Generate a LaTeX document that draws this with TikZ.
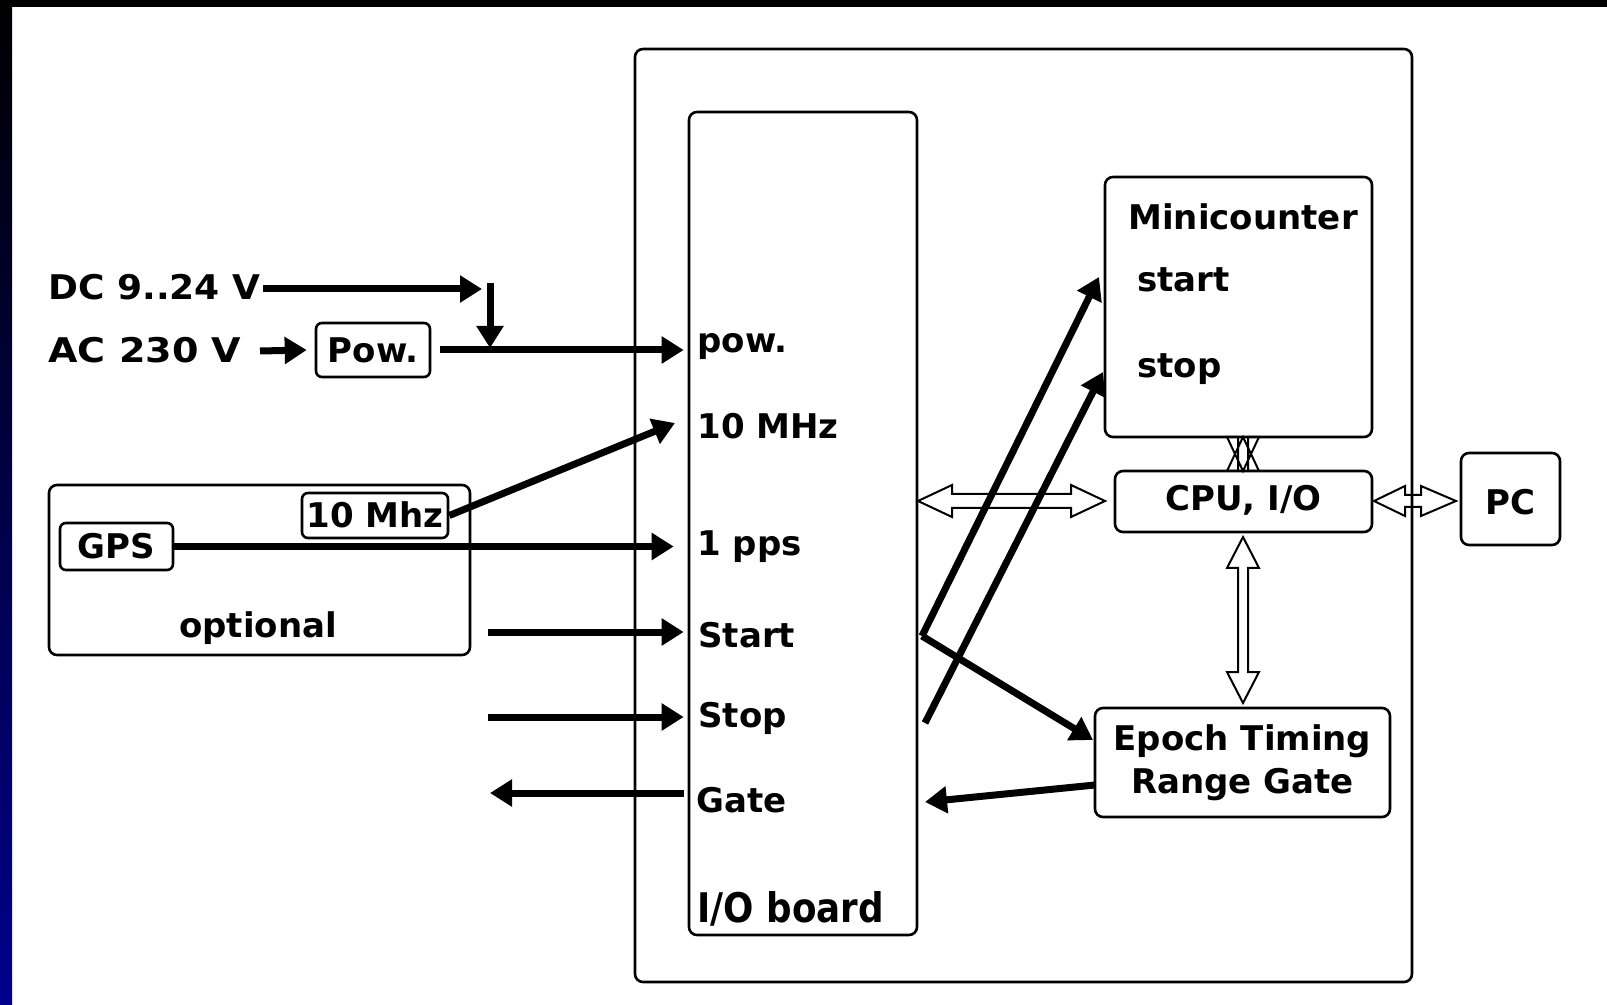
\documentclass[tikz,border=0pt]{standalone}
\usepackage{fontspec}
\setmainfont{DejaVu Sans}
\usetikzlibrary{arrows.meta}
\definecolor{navyb}{RGB}{0,0,140}
\begin{document}
\begin{tikzpicture}[x=0.5pt,y=-0.5pt,
  box/.style={draw,line width=1.3pt,rounded corners=4pt,inner sep=0pt},
  sbox/.style={box,rounded corners=3pt},
  lblfont/.style={font=\bfseries\fontsize{17}{21.5}\selectfont},
  txt/.style={lblfont,inner sep=0pt,anchor=west,text height=12.5pt,text depth=0pt},
  boxtxt/.style={lblfont,text height=12.5pt,text depth=0pt},
  sig/.style={line width=3.5pt,-{Triangle[length=11pt,width=13pt]}},
  bus/.style={draw,line width=1pt,line join=miter}]

\fill[white] (0,0) rectangle (1607,1005);
\useasboundingbox (0,0) rectangle (1607,1005);
\fill[black] (0,0) rectangle (1607,7);
\shade[top color=black,bottom color=navyb] (0,0) rectangle (12,1005);

% boxes
\node[box,minimum width=388.5pt,minimum height=466.5pt] (outer) at (1023.5,515.5) {};
\node[box,minimum width=114pt,minimum height=411.5pt] (ioboard) at (803,523.5) {};
\node[box,minimum width=133.5pt,minimum height=130pt] (mini) at (1238.5,307) {};
\node[box,boxtxt,text depth=4pt,minimum width=128.5pt,minimum height=30.5pt] (cpu) at (1243.5,501.5) {CPU, I/O};
\node[box,boxtxt,text height=15.5pt,minimum width=49.5pt,minimum height=46pt] (pc) at (1510.5,499) {PC};
\node[box,lblfont,align=center,minimum width=147.5pt,minimum height=54.5pt] (epoch) at (1242.5,762.5) {Epoch Timing\\Range Gate};
\node[box,minimum width=210.5pt,minimum height=85pt] (optional) at (259.5,570) {};
\node[sbox,boxtxt,minimum width=56.5pt,minimum height=23.5pt] (gps) at (116.5,546.5) {GPS};
\node[sbox,boxtxt,minimum width=73pt,minimum height=22.5pt] (mhzbox) at (375,515.5) {10 Mhz};
\node[sbox,boxtxt,minimum width=57pt,minimum height=27pt] (pow) at (373,350) {Pow.};

% labels
\node[txt,xscale=1.06] (dc) at (48,287.5) {DC 9..24 V};
\node[txt,xscale=1.12] (ac) at (48,350.5) {AC 230 V};
\node[txt] (powlbl) at (697,340.5) {pow.};
\node[txt] (mhzlbl) at (697,426.5) {10 MHz};
\node[txt] (ppslbl) at (697,543.5) {1 pps};
\node[txt] (startlbl) at (698,634.5) {Start};
\node[txt] (stoplbl) at (698,714.5) {Stop};
\node[txt] (gatelbl) at (696,799.5) {Gate};
\node[txt,xscale=1.05,yscale=1.2] (iolbl) at (697,907) {I/O board};
\node[txt] (minilbl) at (1128,217) {Minicounter};
\node[txt] (startin) at (1137,279.5) {start};
\node[txt] (stopin) at (1137,365.5) {stop};
\node[txt,anchor=base] (optlbl) at (258,637) {optional};

% coordinates for free ends
\coordinate (dcend) at (482,289);
\coordinate (dcdrop) at (490,283);
\coordinate (dcjoin) at (490,348);
\coordinate (acstart) at (260,351);
\coordinate (mhztip) at (675,423);
\coordinate (startsrc) at (488,632);
\coordinate (stopsrc) at (488,717);
\coordinate (gatedst) at (490,793);
\coordinate (split) at (922,636);
\coordinate (stopout) at (925,723);
\coordinate (ministart) at (1099,277);
\coordinate (ministop) at (1103,372);
\coordinate (epochin) at (1093,740);
\coordinate (epochout) at (1095,785);
\coordinate (gatein) at (925,802);

% open bus arrows
\draw[bus] (918,501) -- (952,485) -- (952,494) -- (1071,494) -- (1071,485) -- (1105,501)
  -- (1071,517) -- (1071,508) -- (952,508) -- (952,517) -- cycle;
\draw[bus] (1374,501) -- (1405,486) -- (1405,495) -- (1421,495) -- (1421,486) -- (1456,501)
  -- (1421,516) -- (1421,507) -- (1405,507) -- (1405,516) -- cycle;
\draw[bus] (1243,537) -- (1259,568) -- (1248,568) -- (1248,672) -- (1259,672) -- (1243,703)
  -- (1227,672) -- (1238,672) -- (1238,568) -- (1227,568) -- cycle;
\draw[bus] (1243,437) -- (1259,471) -- (1248,471) -- (1248,437) -- (1259,437) -- (1243,471)
  -- (1227,437) -- (1238,437) -- (1238,471) -- (1227,471) -- cycle;

% signals
\draw[sig] ([xshift=1pt]dc.east |- dcend) -- (dcend);
\draw[sig] (dcdrop) -- (dcjoin);
\draw[sig] (acstart) -- ([xshift=-4pt]pow.west);
\draw[sig,shorten >=2pt] ([xshift=4.5pt]pow.east) -- (pow.east -| ioboard.west);
\draw[sig] (mhzbox.east) -- (mhztip);
\draw[sig,shorten >=7pt] (gps.east) -- (gps.east -| ioboard.west);
\draw[sig,shorten >=2pt] (startsrc) -- (startsrc -| ioboard.west);
\draw[sig,shorten >=2pt] (stopsrc) -- (stopsrc -| ioboard.west);
\draw[sig,shorten <=2pt] (gatedst -| ioboard.west) -- (gatedst);
\draw[sig] (split) -- (ministart);
\draw[sig] (split) -- (epochin);
\draw[sig] (stopout) -- (ministop);
\draw[sig] (epochout) -- (gatein);
\end{tikzpicture}
\end{document}
